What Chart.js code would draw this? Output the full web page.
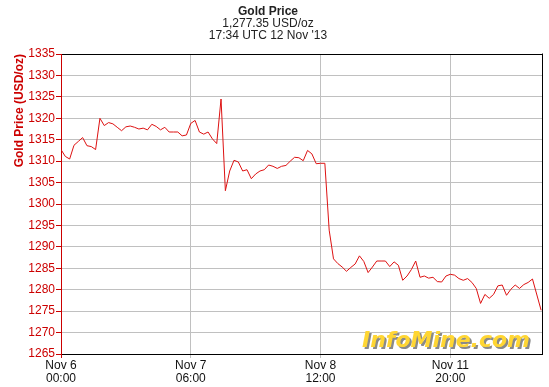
<!DOCTYPE html>
<html>
<head>
<meta charset="utf-8">
<script src="https://cdn.jsdelivr.net/npm/chart.js@4.4.1/dist/chart.umd.min.js"></script>
<style>
  html, body { margin: 0; padding: 0; background: #ffffff; }
  #wrap { width: 549px; height: 387px; position: relative; }
</style>
</head>
<body>
<div id="wrap"><canvas id="c" width="549" height="387"></canvas></div>
<script>
// ---- data (hourly samples, index = hours since Nov 6 00:00, trading hours only) ----
const titleLines = ["Gold Price", "1,277.35 USD/oz", "17:34 UTC 12 Nov '13"];
const yAxisTitle = "Gold Price (USD/oz)";
const xTickValues = [0, 30, 60, 90];
const xTickLabels = [["Nov 6", "00:00"], ["Nov 7", "06:00"], ["Nov 8", "12:00"], ["Nov 11", "20:00"]];
const yMin = 1265, yMax = 1335, yStep = 5;
const xMax = 111.2;
const prices = [
  1312.7, 1311.1, 1310.5, 1313.7, 1314.6, 1315.5, 1313.6, 1313.4, 1312.7, 1320.0,
  1318.3, 1319.0, 1318.7, 1317.9, 1317.1, 1318.0, 1318.2, 1317.9, 1317.5, 1317.7,
  1317.3, 1318.6, 1318.1, 1317.3, 1317.9, 1316.8, 1316.8, 1316.8, 1315.9, 1316.1,
  1318.8, 1319.5, 1316.8, 1316.3, 1316.8, 1315.2, 1314.1, 1324.5, 1303.1, 1307.7,
  1310.2, 1309.8, 1307.7, 1308.0, 1305.9, 1307.0, 1307.7, 1308.0, 1309.1, 1308.8,
  1308.3, 1308.8, 1309.0, 1310.0, 1310.9, 1310.8, 1310.1, 1312.5, 1311.7, 1309.4,
  1309.5, 1309.5, 1293.9, 1287.2, 1286.1, 1285.3, 1284.3, 1285.2, 1286.0, 1287.9,
  1286.6, 1284.0, 1285.3, 1286.7, 1286.7, 1286.7, 1285.4, 1286.5, 1285.7, 1282.2,
  1283.2, 1284.7, 1286.7, 1282.9, 1283.2, 1282.7, 1282.9, 1281.9, 1281.8, 1283.2,
  1283.6, 1283.4, 1282.6, 1282.2, 1282.6, 1281.7, 1280.3, 1276.8, 1278.9, 1278.0,
  1278.9, 1280.9, 1281.1, 1278.7, 1280.1, 1281.1, 1280.3, 1281.2, 1281.7, 1282.5,
  null, 1275.2
];
const watermarkText = "InfoMine.com";

const points = prices.map((v, i) => ({ x: i, y: v }));

const RED = '#cc0000';
const GRID = '#c0c0c0';

const framePlugin = {
  id: 'frame',
  beforeDatasetsDraw(chart) {
    const { ctx } = chart;
    ctx.save();
    ctx.font = 'italic bold 22px "DejaVu Sans"';
    ctx.textAlign = 'right';
    ctx.textBaseline = 'alphabetic';
    ctx.fillStyle = '#8a8a8a';
    ctx.fillText(watermarkText, 532, 349);
    ctx.fillStyle = '#ffd633';
    ctx.fillText(watermarkText, 530, 347);
    ctx.restore();
  },
  afterDraw(chart) {
    const { ctx, chartArea } = chart;
    ctx.save();
    ctx.strokeStyle = '#000000';
    ctx.lineWidth = 1;
    const r = Math.round(chartArea.right) + 0.5;
    ctx.beginPath();
    ctx.moveTo(r, Math.round(chartArea.top) - 0.5);
    ctx.lineTo(r, Math.round(chartArea.bottom) + 0.5);
    ctx.stroke();
    ctx.fillStyle = '#222222';
    ctx.textAlign = 'center';
    ctx.textBaseline = 'middle';
    ctx.font = 'bold 12px "Liberation Sans"';
    ctx.fillText(titleLines[0], 268, 12);
    ctx.font = '12px "Liberation Sans"';
    ctx.fillText(titleLines[1], 268, 24);
    ctx.fillText(titleLines[2], 268, 36);
    ctx.restore();
  }
};

new Chart(document.getElementById('c'), {
  type: 'line',
  data: {
    datasets: [{
      data: points,
      borderColor: '#dd1111',
      borderWidth: 1,
      pointRadius: 0,
      tension: 0,
      spanGaps: true,
      fill: false
    }]
  },
  options: {
    responsive: false,
    animation: false,
    devicePixelRatio: 1,
    layout: { padding: { top: 54, right: 7, left: 0, bottom: 0 } },
    plugins: { legend: { display: false }, tooltip: { enabled: false }, title: { display: false } },
    scales: {
      x: {
        type: 'linear',
        min: 0,
        max: xMax,
        afterFit(scale) { scale.height = 33; },
        afterBuildTicks(scale) { scale.ticks = xTickValues.map(v => ({ value: v })); },
        grid: {
          color: (c) => (c.tick && c.tick.value === 0) ? 'rgba(0,0,0,0)' : GRID,
          tickColor: (c) => (c.tick && c.tick.value === 0) ? RED : GRID,
          tickLength: 4,
          lineWidth: 1
        },
        border: { color: '#000000', width: 1 },
        ticks: {
          color: '#111111',
          padding: 1,
          maxRotation: 0,
          autoSkip: false,
          font: { family: '"Liberation Sans"', size: 12, lineHeight: 1.1 },
          callback: (v) => {
            const k = xTickValues.indexOf(v);
            return k >= 0 ? xTickLabels[k] : '';
          }
        }
      },
      y: {
        min: yMin,
        max: yMax,
        afterFit(scale) { scale.width = 61; },
        grid: {
          color: (c) => (c.tick && (c.tick.value === yMax || c.tick.value === yMin)) ? '#000000' : GRID,
          tickColor: RED,
          tickLength: 5,
          lineWidth: 1
        },
        border: { color: RED, width: 1 },
        ticks: {
          stepSize: yStep,
          color: RED,
          padding: 1,
          font: { family: '"Liberation Sans"', size: 12 },
          callback: (v) => String(v)
        },
        title: {
          display: true,
          text: yAxisTitle,
          color: RED,
          align: 'end',
          padding: { top: 12, bottom: 0 },
          font: { family: '"Liberation Sans"', size: 12, weight: 'bold' }
        }
      }
    }
  },
  plugins: [framePlugin]
});
</script>
</body>
</html>
